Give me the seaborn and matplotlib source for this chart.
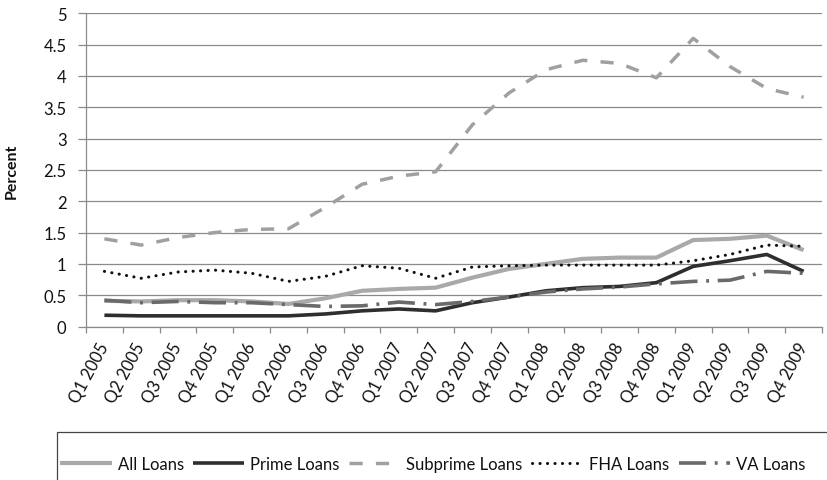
import matplotlib
matplotlib.use("Agg")
import matplotlib.pyplot as plt
import matplotlib.patches as mpatches
import seaborn as sns
import pandas as pd
import numpy as np
from matplotlib.ticker import FixedLocator

quarters = ["Q1 2005", "Q2 2005", "Q3 2005", "Q4 2005",
            "Q1 2006", "Q2 2006", "Q3 2006", "Q4 2006",
            "Q1 2007", "Q2 2007", "Q3 2007", "Q4 2007",
            "Q1 2008", "Q2 2008", "Q3 2008", "Q4 2008",
            "Q1 2009", "Q2 2009", "Q3 2009", "Q4 2009"]

all_loans = [0.41, 0.40, 0.42, 0.42, 0.40, 0.36, 0.45, 0.57, 0.60, 0.62,
             0.78, 0.92, 1.00, 1.08, 1.10, 1.10, 1.38, 1.40, 1.45, 1.22]
prime_loans = [0.18, 0.17, 0.17, 0.17, 0.17, 0.17, 0.20, 0.25, 0.28, 0.25,
               0.38, 0.47, 0.57, 0.62, 0.64, 0.70, 0.96, 1.05, 1.15, 0.88]
subprime_loans = [1.40, 1.30, 1.42, 1.50, 1.55, 1.56, 1.90, 2.27, 2.40, 2.47,
                  3.22, 3.73, 4.10, 4.25, 4.20, 3.97, 4.60, 4.15, 3.80, 3.66]
fha_loans = [0.88, 0.77, 0.87, 0.90, 0.85, 0.72, 0.80, 0.97, 0.93, 0.77,
             0.95, 0.97, 0.98, 0.98, 0.98, 0.98, 1.05, 1.15, 1.30, 1.28]
va_loans = [0.42, 0.38, 0.40, 0.38, 0.38, 0.35, 0.32, 0.33, 0.39, 0.35,
            0.40, 0.47, 0.55, 0.60, 0.63, 0.68, 0.72, 0.74, 0.88, 0.85]
y_ticks = [0, 0.5, 1, 1.5, 2, 2.5, 3, 3.5, 4, 4.5, 5]
y_tick_labels = ["0", "0.5", "1", "1.5", "2", "2.5", "3", "3.5", "4", "4.5", "5"]

series_names = ["All Loans", "Prime Loans", "Subprime Loans", "FHA Loans", "VA Loans"]
series_values = [all_loans, prime_loans, subprime_loans, fha_loans, va_loans]

frames = []
for name, vals in zip(series_names, series_values):
    frames.append(pd.DataFrame({"idx": np.arange(len(quarters)), "quarter": quarters,
                                "value": vals, "series": name}))
df = pd.concat(frames, ignore_index=True)

sns.set_theme(style="white")
plt.rcParams['font.family'] = ['Lato', 'DejaVu Sans']

W, H = 827, 481
fig = plt.figure(figsize=(W / 100, H / 100), dpi=100)
ax = fig.add_axes([86 / W, 1 - 327.5 / H, 736 / W, 313.2 / H])

styles = {
    "All Loans": dict(color="#a9a9a9", lw=3.0, ls="-", cap="butt"),
    "Prime Loans": dict(color="#2e2e2e", lw=2.6, ls="-", cap="butt"),
    "Subprime Loans": dict(color="#a0a0a0", lw=2.5, ls=(0, (3.8, 3.8)), cap="butt"),
    "FHA Loans": dict(color="#111111", lw=2.2, ls=(0, (0.05, 2.4)), cap="round"),
    "VA Loans": dict(color="#6a6a6a", lw=2.6, ls=(0, (7.5, 2.4, 0.8, 2.4)), cap="butt"),
}

for name in series_names:
    st = styles[name]
    sub = df[df["series"] == name]
    sns.lineplot(data=sub, x="idx", y="value", ax=ax, color=st["color"],
                 linewidth=st["lw"], linestyle=st["ls"], label=name,
                 estimator=None, sort=False, dash_capstyle=st["cap"],
                 solid_capstyle="butt", zorder=3)

ax.set_xlim(-0.5, len(quarters) - 0.5)
ax.set_ylim(0, 5)
ax.set_yticks(y_ticks)
ax.set_yticklabels(y_tick_labels, fontsize=12, color="#111111")
ax.grid(axis="y", color="#8a8a8a", linewidth=0.9)
ax.set_axisbelow(True)

ax.set_xticks(np.arange(len(quarters)))
ax.set_xticklabels(quarters, rotation=62, ha="right", va="center",
                   rotation_mode="anchor", fontsize=12, color="#111111")
ax.xaxis.set_minor_locator(FixedLocator(np.arange(-0.5, len(quarters), 1.0)))
ax.tick_params(axis="x", which="major", length=0, pad=12)
ax.tick_params(axis="x", which="minor", length=4, color="#8a8a8a", width=0.9, bottom=True)
ax.tick_params(axis="y", length=6, color="#8a8a8a", width=0.9, pad=8, left=True)

for side in ["top", "right"]:
    ax.spines[side].set_visible(False)
for side in ["left", "bottom"]:
    ax.spines[side].set_color("#8a8a8a")
    ax.spines[side].set_linewidth(0.9)

ax.set_xlabel("")
ax.set_ylabel("Percent", fontsize=11.5, fontweight="bold", color="#111111")
ax.yaxis.set_label_coords((19 - 86) / 736, 0.5)

# legend box (extends past the right and bottom edges, as in the reference)
frame = mpatches.Rectangle((57 / W, -0.1), 1.0, (1 - 433 / H) + 0.1,
                           transform=fig.transFigure, fill=False,
                           edgecolor="#444444", linewidth=0.9)
fig.patches.append(frame)

if ax.legend_:
    ax.legend_.remove()
handles, labels = ax.get_legend_handles_labels()
leg = fig.legend(handles, labels, loc="center left",
                 bbox_to_anchor=(60 / W, 1 - 465 / H), ncol=5, frameon=False,
                 fontsize=12, handlelength=3.1, handletextpad=0.35,
                 columnspacing=0.55, borderpad=0, borderaxespad=0)
for t in leg.get_texts():
    t.set_color("#111111")

fig.savefig("out.png", dpi=100)
